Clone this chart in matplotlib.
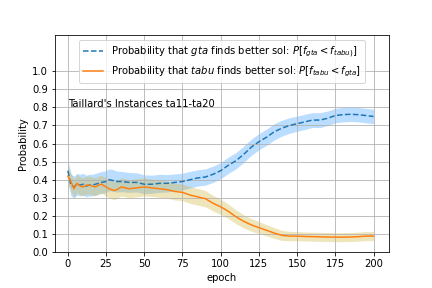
import matplotlib
matplotlib.use("Agg")
import matplotlib.pyplot as plt
import numpy as np

epochs = [0, 2, 4, 6, 8, 10, 12, 14, 16, 18, 20, 22, 25, 27, 30, 32, 35, 40, 45, 50,
          55, 60, 65, 70, 75, 80, 85, 90, 95, 100, 105, 110, 115, 120, 125, 130, 135,
          140, 145, 150, 155, 160, 165, 170, 175, 180, 185, 190, 195, 200]

p_gta = [0.45, 0.37, 0.36, 0.375, 0.37, 0.375, 0.365, 0.37, 0.37, 0.375, 0.38, 0.385,
         0.39, 0.40, 0.395, 0.39, 0.39, 0.385, 0.385, 0.375, 0.375, 0.38, 0.38, 0.385,
         0.39, 0.40, 0.41, 0.415, 0.43, 0.45, 0.48, 0.505, 0.54, 0.58, 0.61, 0.635,
         0.665, 0.685, 0.70, 0.71, 0.72, 0.73, 0.73, 0.74, 0.755, 0.76, 0.762, 0.76,
         0.755, 0.75]

p_tabu = [0.42, 0.39, 0.35, 0.38, 0.365, 0.36, 0.37, 0.37, 0.365, 0.36, 0.37, 0.375,
          0.36, 0.35, 0.34, 0.345, 0.36, 0.35, 0.355, 0.36, 0.355, 0.35, 0.345, 0.335,
          0.33, 0.315, 0.305, 0.295, 0.27, 0.25, 0.225, 0.195, 0.17, 0.15, 0.135, 0.12,
          0.105, 0.092, 0.088, 0.088, 0.086, 0.085, 0.084, 0.083, 0.082, 0.082, 0.083,
          0.085, 0.088, 0.088]

gta_spread = [0.06, 0.06, 0.06, 0.06, 0.06, 0.06, 0.06, 0.06, 0.06, 0.06, 0.06, 0.06,
              0.06, 0.06, 0.06, 0.058, 0.056, 0.055, 0.053, 0.052, 0.05, 0.05, 0.048,
              0.047, 0.046, 0.046, 0.045, 0.045, 0.045, 0.045, 0.045, 0.045, 0.045,
              0.045, 0.045, 0.045, 0.045, 0.044, 0.043, 0.042, 0.042, 0.041, 0.041,
              0.04, 0.04, 0.04, 0.04, 0.04, 0.04, 0.04]

tabu_spread = [0.05, 0.05, 0.05, 0.05, 0.05, 0.05, 0.05, 0.05, 0.05, 0.05, 0.05, 0.05,
               0.05, 0.05, 0.05, 0.05, 0.05, 0.05, 0.05, 0.05, 0.048, 0.048, 0.047,
               0.047, 0.046, 0.046, 0.046, 0.045, 0.043, 0.042, 0.04, 0.038, 0.036,
               0.035, 0.033, 0.031, 0.03, 0.028, 0.026, 0.025, 0.025, 0.025, 0.025,
               0.025, 0.025, 0.025, 0.025, 0.025, 0.025, 0.025]

label_gta = r'Probability that $gta$ finds better sol: $P[f_{gta} < f_{tabu)}]$'
label_tabu = r'Probability that $tabu$ finds better sol: $P[f_{tabu} < f_{gta}]$'
annotation = "Taillard's Instances ta11-ta20"

x = np.array(epochs)
g = np.array(p_gta)
t = np.array(p_tabu)
gs = np.array(gta_spread)
ts = np.array(tabu_spread)

fig = plt.figure(figsize=(6, 4), dpi=72)
ax = fig.add_axes([0.127, 0.125, 0.773, 0.753])

ax.fill_between(x, g - gs, g + gs, color='dodgerblue', alpha=0.3, linewidth=0)
ax.fill_between(x, t - ts, t + ts, color='#cfb53b', alpha=0.35, linewidth=0)
ax.plot(x, g, '--', color='C0', label=label_gta)
ax.plot(x, t, '-', color='C1', label=label_tabu)

ax.set_xlim(-8.5, 210)
ax.set_ylim(0, 1.2)
ax.set_yticks(np.arange(0, 1.01, 0.1))
ax.set_xticks([0, 25, 50, 75, 100, 125, 150, 175, 200])
ax.grid(True)
ax.set_xlabel('epoch')
ax.set_ylabel('Probability')
ax.text(0, 0.8, annotation, ha='left', va='baseline')
ax.legend(loc='upper center')

fig.savefig('out.png', dpi=72)
